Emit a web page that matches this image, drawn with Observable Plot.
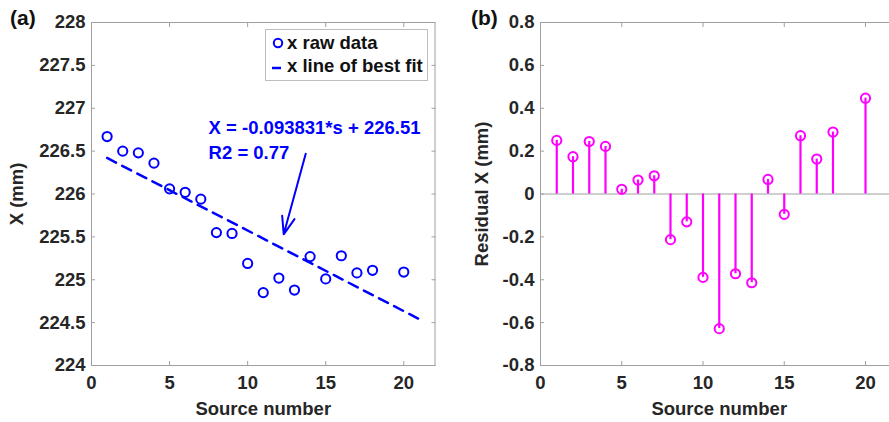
<!DOCTYPE html>
<html>
<head>
<meta charset="utf-8">
<script src="https://cdn.jsdelivr.net/npm/d3@7"></script>
<script src="https://cdn.jsdelivr.net/npm/@observablehq/plot@0.6"></script>
<style>
  html, body { margin: 0; padding: 0; background: #fff; }
  #wrap { position: relative; width: 889px; height: 422px; overflow: hidden; background: #fff;
          font-family: "Liberation Sans", Arial, sans-serif; font-weight: bold; color: #262626; }
  #wrap svg { position: absolute; top: 0; overflow: visible; }
  .plabel { position: absolute; font-size: 21px; font-weight: bold; color: #111; }
  #legend { position: absolute; left: 265px; top: 29px; width: 161px; height: 50px;
            border: 1px solid #bdbdbd; background: #fff; font-size: 18.5px; color: #111; }
  .litem { position: absolute; left: 0; white-space: nowrap; }
</style>
</head>
<body>
<div id="wrap">
  <div id="pa"></div>
  <div id="pb"></div>
  <div class="plabel" style="left:10px;top:6px;">(a)</div>
  <div class="plabel" style="left:471px;top:6px;">(b)</div>
  <div id="legend">
    <svg width="20" height="20" style="left:3px;top:4px;position:absolute;"><circle cx="9" cy="9" r="4.2" fill="none" stroke="#0000ff" stroke-width="2"/></svg>
    <div class="litem" style="left:21px;top:2px;">x raw data</div>
    <svg width="20" height="20" style="left:3px;top:28px;position:absolute;"><line x1="3" y1="10" x2="12" y2="10" stroke="#0000ff" stroke-width="2.5"/></svg>
    <div class="litem" style="left:21px;top:25px;">x line of best fit</div>
  </div>
</div>
<script>
// ---- data ----
const source = [1, 2, 3, 4, 5, 6, 7, 8, 9, 10, 11, 12, 13, 14, 15, 16, 17, 18, 20];
const rawX = [226.67, 226.50, 226.48, 226.36, 226.06, 226.02, 225.94, 225.55, 225.54, 225.19,
              224.85, 225.02, 224.88, 225.27, 225.01, 225.28, 225.08, 225.11, 225.09];
const residualX = [0.25, 0.174, 0.245, 0.222, 0.022, 0.065, 0.085, -0.213, -0.130, -0.389,
                   -0.628, -0.372, -0.414, 0.068, -0.095, 0.272, 0.163, 0.289, 0.447];
const fitS = [1, 21];
const fitX = [226.42, 224.54];
const xTicks = [0, 5, 10, 15, 20];
const yTicksA = [224, 224.5, 225, 225.5, 226, 226.5, 227, 227.5, 228];
const yTicksB = [-0.8, -0.6, -0.4, -0.2, 0, 0.2, 0.4, 0.6, 0.8];
const annotLines = ["X = -0.093831*s + 226.51", "R2 = 0.77"];
const annotX = [7.5, 7.5];
const annotY = [226.77, 226.48];
const arrowFrom = {x: 13.72, y: 226.47};
const arrowTo = {x: 12.31, y: 225.53};

const rawData = source.map((s, i) => ({s, x: rawX[i]}));
const resData = source.map((s, i) => ({s, r: residualX[i]}));
const fitData = fitS.map((s, i) => ({s, x: fitX[i]}));
const annotData = annotLines.map((t, i) => ({t, x: annotX[i], y: annotY[i]}));

const BLUE = "#0000ff", MAG = "#ff00ff", GRID = "#a0a0a0", TXT = "#262626";
const fmt = d => String(d);
const blank = () => "";
const style = {fontFamily: '"Liberation Sans", Arial, sans-serif', fontWeight: "bold", fontSize: "18.5px", color: TXT, background: "transparent"};

const pa = Plot.plot({
  width: 445, height: 422,
  marginLeft: 91, marginRight: 10.5, marginTop: 22, marginBottom: 57,
  style,
  x: {domain: [0, 22], ticks: xTicks},
  y: {domain: [224, 228], ticks: yTicksA},
  marks: [
    Plot.frame({stroke: GRID}),
    Plot.axisX({ticks: xTicks, tickSize: -4, tickPadding: 14, tickFormat: fmt, stroke: GRID, fill: TXT,
                label: "Source number", labelAnchor: "center", labelArrow: "none", labelOffset: 49}),
    Plot.axisX({ticks: xTicks, anchor: "top", tickSize: -4, tickFormat: blank, stroke: GRID, label: null}),
    Plot.axisY({ticks: yTicksA, tickSize: -4, tickPadding: 10, tickFormat: fmt, stroke: GRID, fill: TXT,
                label: "X (mm)", labelAnchor: "center", labelArrow: "none", labelOffset: 82}),
    Plot.axisY({ticks: yTicksA, anchor: "right", tickSize: -4, tickFormat: blank, stroke: GRID, label: null}),
    Plot.line(fitData, {x: "s", y: "x", stroke: BLUE, strokeWidth: 2.5, strokeDasharray: "10,7"}),
    Plot.dot(rawData, {x: "s", y: "x", r: 4.6, stroke: BLUE, strokeWidth: 2, fill: "none"}),
    Plot.text(annotData, {x: "x", y: "y", text: "t", textAnchor: "start", fill: BLUE, fontSize: 18.5, fontWeight: "bold"}),
    Plot.arrow([0], {x1: () => arrowFrom.x, y1: () => arrowFrom.y, x2: () => arrowTo.x, y2: () => arrowTo.y,
                     stroke: BLUE, strokeWidth: 2, headLength: 14, headAngle: 40})
  ]
});
pa.style.left = "0px";
document.getElementById("pa").appendChild(pa);

const pb = Plot.plot({
  width: 460, height: 422,
  marginLeft: 96, marginRight: 6.5, marginTop: 22, marginBottom: 57,
  style,
  x: {domain: [0, 22], ticks: xTicks},
  y: {domain: [-0.8, 0.8], ticks: yTicksB},
  marks: [
    Plot.frame({stroke: GRID}),
    Plot.ruleY([0], {stroke: GRID, strokeWidth: 1.2}),
    Plot.axisX({ticks: xTicks, tickSize: -4, tickPadding: 14, tickFormat: fmt, stroke: GRID, fill: TXT,
                label: "Source number", labelAnchor: "center", labelArrow: "none", labelOffset: 49}),
    Plot.axisX({ticks: xTicks, anchor: "top", tickSize: -4, tickFormat: blank, stroke: GRID, label: null}),
    Plot.axisY({ticks: yTicksB, tickSize: -4, tickPadding: 10, tickFormat: fmt, stroke: GRID, fill: TXT,
                label: "Residual X (mm)", labelAnchor: "center", labelArrow: "none", labelOffset: 66}),
    Plot.ruleX(resData, {x: "s", y1: 0, y2: "r", stroke: MAG, strokeWidth: 2.2}),
    Plot.dot(resData, {x: "s", y: "r", r: 4.6, stroke: MAG, strokeWidth: 2, fill: "none"})
  ]
});
pb.style.left = "444px";
document.getElementById("pb").appendChild(pb);
</script>
</body>
</html>
